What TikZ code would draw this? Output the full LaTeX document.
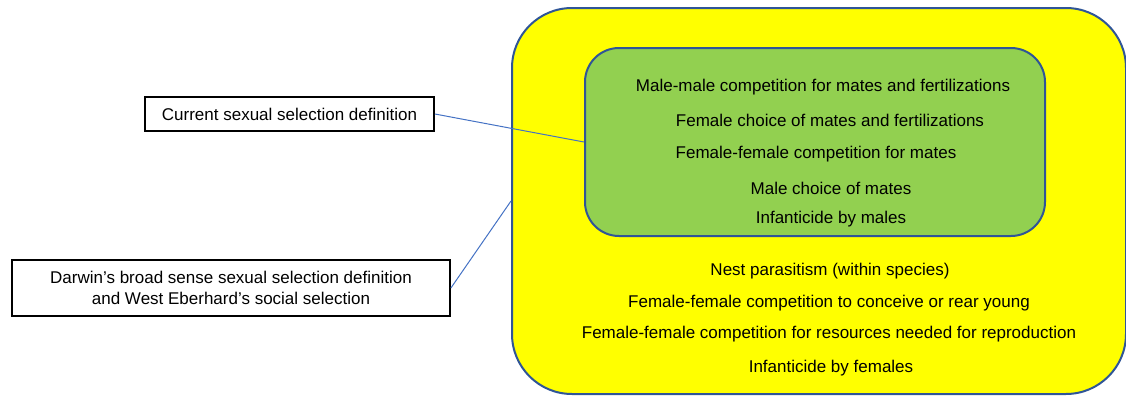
\documentclass[tikz,border=0pt]{standalone}
\usepackage{fontspec}
\setmainfont{Liberation Sans}
\usetikzlibrary{positioning}
\definecolor{regionblue}{HTML}{2F5597}
\definecolor{linkblue}{HTML}{4472C4}
\definecolor{broadyellow}{HTML}{FFFF00}
\definecolor{narrowgreen}{HTML}{92D050}

\begin{document}
\begin{tikzpicture}[x=0.5pt,y=-0.5pt,
  every node/.style={font=\fontsize{8.5}{10.5}\selectfont,inner sep=0pt},
  region/.style={draw=regionblue,line width=1pt},
  defbox/.style={draw=black,line width=0.9pt,fill=white,align=center},
  link/.style={draw=linkblue,line width=0.5pt}]
\useasboundingbox (0,0) rectangle (1126,396);
% nested regions
\node[region,fill=broadyellow,rounded corners=30pt,minimum width=307pt,minimum height=193pt] (outer) at (819,201) {};
\node[region,fill=narrowgreen,rounded corners=17pt,minimum width=230pt,minimum height=94pt] (inner) at (815,142) {};
% behaviours inside the current definition
\node (b1) at (823,87) {Male-male competition for mates and fertilizations};
\node (b2) at (830,120) {Female choice of mates and fertilizations};
\node (b3) at (816,154) {Female-female competition for mates};
\node (b4) at (831,188) {Male choice of mates};
\node (b5) at (831,219) {Infanticide by males};
% behaviours only in the broad sense
\node (b6) at (830,271) {Nest parasitism (within species)};
\node (b7) at (829,303) {Female-female competition to conceive or rear young};
\node (b8) at (829,334) {Female-female competition for resources needed for reproduction};
\node (b9) at (831,368) {Infanticide by females};
% labels
\node[defbox,minimum width=144.5pt,minimum height=17pt] (current) at (289.5,114) {Current sexual selection definition};
\node[defbox,minimum width=219pt,minimum height=28pt] (broad) at (231,288) {Darwin’s broad sense sexual selection definition\\and West Eberhard’s social selection};
\draw[link] (current.east)--(inner.west);
\draw[link] (broad.east)--(outer.west);
\end{tikzpicture}
\end{document}
